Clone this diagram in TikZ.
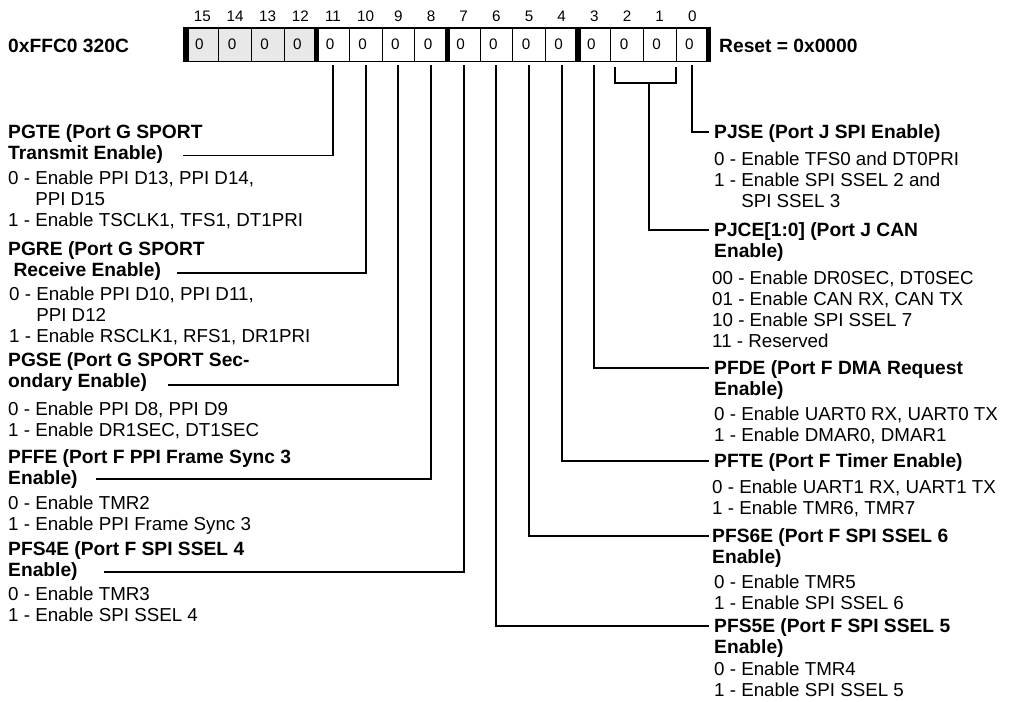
\documentclass[tikz,border=0pt]{standalone}
\usepackage{fontspec}
\setmainfont{Liberation Sans}
\begin{document}
\begin{tikzpicture}[
  cell/.style={draw,line width=0.8pt,minimum width=0.98cm,minimum height=0.99cm,inner sep=0pt,
    font=\fontsize{13}{15}\selectfont,execute at end node={\hspace{0.18cm}}},
  rsvd/.style={cell,fill=black!9},
  bitno/.style={font=\fontsize{13}{15}\selectfont,inner sep=0pt},
  title/.style={anchor=base west,align=left,inner sep=0pt,font=\fontsize{16.4}{17.9}\selectfont\bfseries},
  desc/.style={anchor=base west,align=left,inner sep=0pt,font=\fontsize{16}{17.9}\selectfont},
  leader/.style={line width=1.6pt}]
\useasboundingbox (0.000,0.000) rectangle (30.600,-21.030);
% register
\node[title] (addr) at (0.240,-1.575) {0xFFC0 320C};
\node[title] (reset) at (21.570,-1.560) {Reset = 0x0000};
\node[rsvd] (b15) at (6.070,-1.335) {0};
\node[rsvd] (b14) at (7.050,-1.335) {0};
\node[rsvd] (b13) at (8.030,-1.335) {0};
\node[rsvd] (b12) at (9.010,-1.335) {0};
\node[cell] (b11) at (9.990,-1.335) {0};
\node[cell] (b10) at (10.970,-1.335) {0};
\node[cell] (b9) at (11.950,-1.335) {0};
\node[cell] (b8) at (12.930,-1.335) {0};
\node[cell] (b7) at (13.910,-1.335) {0};
\node[cell] (b6) at (14.890,-1.335) {0};
\node[cell] (b5) at (15.870,-1.335) {0};
\node[cell] (b4) at (16.850,-1.335) {0};
\node[cell] (b3) at (17.830,-1.335) {0};
\node[cell] (b2) at (18.810,-1.335) {0};
\node[cell] (b1) at (19.790,-1.335) {0};
\node[cell] (b0) at (20.770,-1.335) {0};
\draw[line width=1.5pt] (b15.north west) rectangle (b0.south east);
\draw[line width=4.3pt] (5.580,-0.800) -- (5.580,-1.870);
\draw[line width=4.3pt] (9.500,-0.800) -- (9.500,-1.870);
\draw[line width=4.3pt] (13.420,-0.800) -- (13.420,-1.870);
\draw[line width=4.3pt] (17.340,-0.800) -- (17.340,-1.870);
\draw[line width=4.3pt] (21.260,-0.800) -- (21.260,-1.870);
\node[bitno] at (6.070,-0.480) {15};
\node[bitno] at (7.050,-0.480) {14};
\node[bitno] at (8.030,-0.480) {13};
\node[bitno] at (9.010,-0.480) {12};
\node[bitno] at (9.990,-0.480) {11};
\node[bitno] at (10.970,-0.480) {10};
\node[bitno] at (11.950,-0.480) {9};
\node[bitno] at (12.930,-0.480) {8};
\node[bitno] at (13.910,-0.480) {7};
\node[bitno] at (14.890,-0.480) {6};
\node[bitno] at (15.870,-0.480) {5};
\node[bitno] at (16.850,-0.480) {4};
\node[bitno] at (17.830,-0.480) {3};
\node[bitno] at (18.810,-0.480) {2};
\node[bitno] at (19.790,-0.480) {1};
\node[bitno] at (20.770,-0.480) {0};
% left fields
\node[title] (pgte) at (0.240,-4.785) {PGTE (Port G SPORT\\Transmit Enable)};
\node[desc] (pgte-d) at (0.240,-6.795) {0 - Enable PPI D13, PPI D14,\\\phantom{0 - }PPI D15\\1 - Enable TSCLK1, TFS1, DT1PRI};
\node[title] (pgre) at (0.240,-8.295) {PGRE (Port G SPORT\\\hspace*{0.16cm}Receive Enable)};
\node[desc] (pgre-d) at (0.270,-10.275) {0 - Enable PPI D10, PPI D11,\\\phantom{0 - }PPI D12\\1 - Enable RSCLK1, RFS1, DR1PRI};
\node[title] (pgse) at (0.240,-11.625) {PGSE (Port G SPORT Sec-\\ondary Enable)};
\node[desc] (pgse-d) at (0.240,-13.095) {0 - Enable PPI D8, PPI D9\\1 - Enable DR1SEC, DT1SEC};
\node[title] (pffe) at (0.240,-14.535) {PFFE (Port F PPI Frame Sync 3\\Enable)};
\node[desc] (pffe-d) at (0.240,-15.915) {0 - Enable TMR2\\1 - Enable PPI Frame Sync 3};
\node[title] (pfs4e) at (0.240,-17.295) {PFS4E (Port F SPI SSEL 4\\Enable)};
\node[desc] (pfs4e-d) at (0.240,-18.645) {0 - Enable TMR3\\1 - Enable SPI SSEL 4};
% right fields
\node[title] (pjse) at (21.420,-4.155) {PJSE (Port J SPI Enable)};
\node[desc] (pjse-d) at (21.420,-6.225) {0 - Enable TFS0 and DT0PRI\\1 - Enable SPI SSEL 2 and\\\phantom{1 - }SPI SSEL 3};
\node[title] (pjce) at (21.420,-7.725) {PJCE[1:0] (Port J CAN\\Enable)};
\node[desc] (pjce-d) at (21.360,-10.425) {00 - Enable DR0SEC, DT0SEC\\01 - Enable CAN RX, CAN TX\\10 - Enable SPI SSEL 7\\11 - Reserved};
\node[title] (pfde) at (21.420,-11.865) {PFDE (Port F DMA Request\\Enable)};
\node[desc] (pfde-d) at (21.420,-13.245) {0 - Enable UART0 RX, UART0 TX\\1 - Enable DMAR0, DMAR1};
\node[title] (pfte) at (21.420,-14.025) {PFTE (Port F Timer Enable)};
\node[desc] (pfte-d) at (21.360,-15.435) {0 - Enable UART1 RX, UART1 TX\\1 - Enable TMR6, TMR7};
\node[title] (pfs6e) at (21.360,-16.905) {PFS6E (Port F SPI SSEL 6\\Enable)};
\node[desc] (pfs6e-d) at (21.420,-18.285) {0 - Enable TMR5\\1 - Enable SPI SSEL 6};
\node[title] (pfs5e) at (21.420,-19.605) {PFS5E (Port F SPI SSEL 5\\Enable)};
\node[desc] (pfs5e-d) at (21.420,-20.895) {0 - Enable TMR4\\1 - Enable SPI SSEL 5};
% leader ends
\coordinate (pgte-end) at (5.490,-4.665);
\coordinate (pgre-end) at (5.310,-8.190);
\coordinate (pgse-end) at (5.040,-11.550);
\coordinate (pffe-end) at (2.880,-14.370);
\coordinate (pfs4e-end) at (3.120,-17.160);
\coordinate (pjse-end) at (21.270,-3.960);
\coordinate (pjce-end) at (21.270,-6.900);
\coordinate (pfde-end) at (21.270,-11.040);
\coordinate (pfte-end) at (21.270,-13.830);
\coordinate (pfs6e-end) at (21.270,-16.080);
\coordinate (pfs5e-end) at (21.270,-18.780);
\coordinate (brk-l) at (18.450,-2.010);
\coordinate (brk-r) at (20.280,-2.010);
\coordinate (brk-m) at (19.470,-2.490);
% leaders
\draw[leader] ([yshift=-0.120cm]b11.south) |- (pgte-end);
\draw[leader] ([yshift=-0.120cm]b10.south) |- (pgre-end);
\draw[leader] ([yshift=-0.120cm]b9.south) |- (pgse-end);
\draw[leader] ([yshift=-0.120cm]b8.south) |- (pffe-end);
\draw[leader] ([yshift=-0.120cm]b7.south) |- (pfs4e-end);
\draw[leader] ([yshift=-0.120cm]b6.south) |- (pfs5e-end);
\draw[leader] ([yshift=-0.120cm]b5.south) |- (pfs6e-end);
\draw[leader] ([yshift=-0.120cm]b4.south) |- (pfte-end);
\draw[leader] ([yshift=-0.120cm]b3.south) |- (pfde-end);
\draw[leader] (brk-l) |- (brk-m) -| (brk-r);
\draw[leader] (brk-m) |- (pjce-end);
\draw[leader] ([yshift=-0.120cm]b0.south) |- (pjse-end);
\end{tikzpicture}
\end{document}
